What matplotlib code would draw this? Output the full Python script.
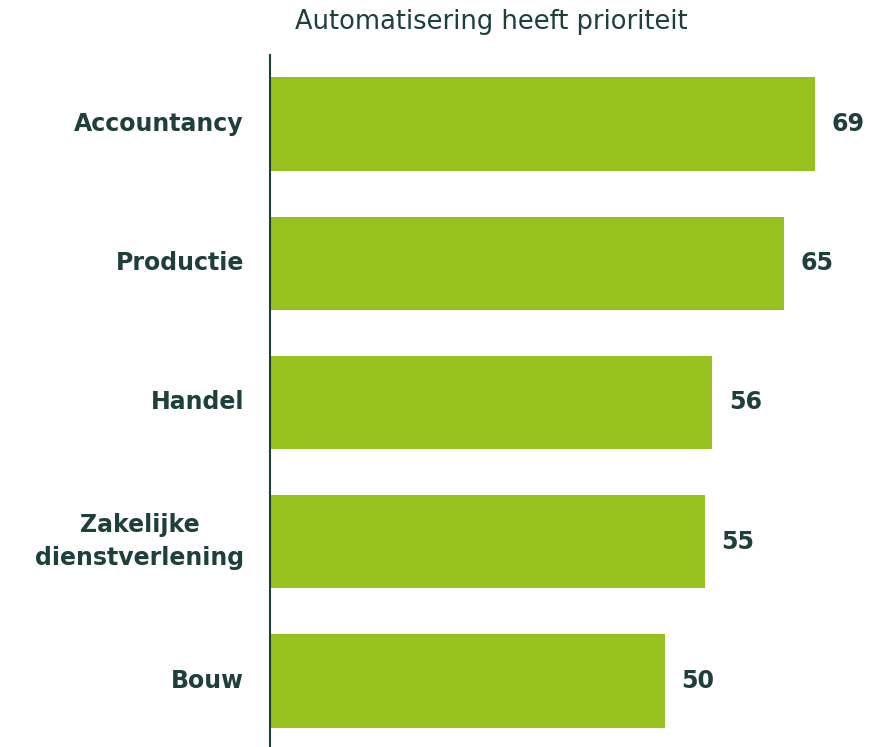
import matplotlib.pyplot as plt

categories = ['Accountancy', 'Productie', 'Handel', 'Zakelijke\ndienstverlening', 'Bouw']
values = [69, 65, 56, 55, 50]
title = 'Automatisering heeft prioriteit'

green = '#96c11f'
dark = '#1e3f3a'

fig = plt.figure(figsize=(8.74, 7.47), dpi=100)
ax = fig.add_axes([270 / 874, 0, 1 - 270 / 874, 1 - 55 / 747])

pos = range(len(values))
ax.barh(pos, values, height=0.668, color=green)
ax.set_ylim(4.474, -0.4955)
ax.set_xlim(0, 604 / 7.9)

for p, v in zip(pos, values):
    ax.text(v + 2.1, p, str(v), va='center', ha='left', fontsize=17,
            fontweight='bold', color=dark)

for p, c in zip(pos, categories):
    ax.text(-3.3, p, c, va='center', ha='right', ma='center', fontsize=17,
            fontweight='bold', color=dark, linespacing=1.45)

for s in ['top', 'right', 'bottom']:
    ax.spines[s].set_visible(False)
ax.spines['left'].set_color(dark)
ax.spines['left'].set_linewidth(1.5)
ax.set_xticks([])
ax.set_yticks([])

fig.text(491 / 874, 1 - 22 / 747, title, ha='center', va='center',
         fontsize=18.5, color=dark)

fig.savefig('out.png', dpi=100)
